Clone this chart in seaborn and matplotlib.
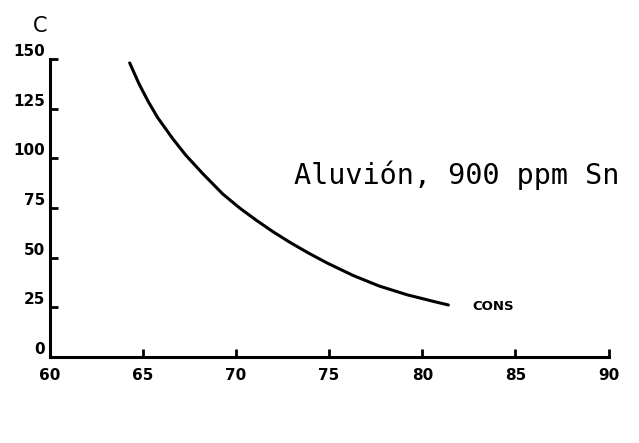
import matplotlib
matplotlib.use("Agg")
import matplotlib.pyplot as plt
import seaborn as sns
import pandas as pd

# data
temp = [64.3, 64.8, 65.3, 65.8, 66.6, 67.3, 68.2, 69.3, 70.2, 71.1, 72.0,
        72.9, 73.9, 74.9, 76.3, 77.7, 79.2, 80.6, 81.4]
conc = [148, 137.5, 128.5, 120.5, 110, 101.7, 92.5, 82, 75, 68.8, 63,
        57.7, 52.3, 47.3, 41, 35.7, 31.3, 28, 26.2]
x_ticks = [60, 65, 70, 75, 80, 85, 90]
y_ticks = [0, 25, 50, 75, 100, 125, 150]

sns.set_style("ticks")
plt.rcParams['font.family'] = ['DejaVu Sans']
plt.rcParams['text.color'] = 'black'

df = pd.DataFrame({"T": temp, "C": conc})

fig = plt.figure(figsize=(6.39, 4.43), dpi=100)
ax = fig.add_axes([0.0775, 0.194, 0.875, 0.673])

sns.lineplot(data=df, x="T", y="C", ax=ax, color="black", linewidth=2.2)

ax.set_xlim(60, 90)
ax.set_ylim(0, 150)
ax.set_xticks(x_ticks)
ax.set_yticks(y_ticks)
ax.set_xticklabels([str(t) for t in x_ticks], fontsize=11, fontweight="bold")
ax.set_yticklabels([str(t) for t in y_ticks], fontsize=11, fontweight="bold")
ax.tick_params(axis="both", direction="in", length=6, width=2,
               colors="black", labelcolor="black")
ax.tick_params(axis="x", pad=8)
ax.tick_params(axis="y", pad=3)
for lab in ax.get_yticklabels():
    lab.set_verticalalignment("bottom")
ax.set_xlabel("")
ax.set_ylabel("")
sns.despine(ax=ax)
ax.spines["left"].set_linewidth(2.2)
ax.spines["bottom"].set_linewidth(2.2)
ax.spines["left"].set_color("black")
ax.spines["bottom"].set_color("black")

fig.text(40 / 639, 1 - 26 / 443, "C", fontsize=15, ha="center", va="center",
         color="black")
ax.text(0.438, 0.61, "Aluvión, 900 ppm Sn", transform=ax.transAxes,
        fontsize=20.5, family="DejaVu Sans Mono", ha="left", va="center",
        color="black")
ax.text(0.757, 0.17, "CONS", transform=ax.transAxes,
        fontsize=9.5, fontweight="bold", ha="left", va="center", color="black")

fig.savefig("out.png", dpi=100)
